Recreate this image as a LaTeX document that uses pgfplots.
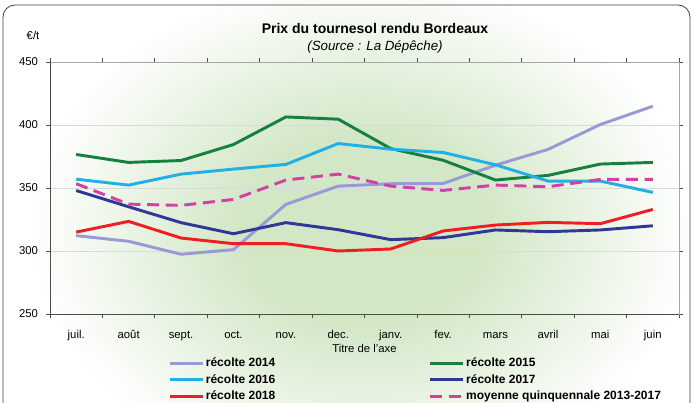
\documentclass[border=0pt]{standalone}
\usepackage{fontspec}
\setmainfont{Liberation Sans}
\usepackage{pgfplots}
\pgfplotsset{compat=1.18}
\definecolor{c14}{RGB}{153,153,214}
\definecolor{c15}{RGB}{22,128,62}
\definecolor{c16}{RGB}{32,176,230}
\definecolor{c17}{RGB}{46,56,150}
\definecolor{c18}{RGB}{238,30,36}
\definecolor{cmoy}{RGB}{210,64,160}
\definecolor{bgc}{RGB}{210,231,198}
\pgfdeclareradialshading{bgshade}{\pgfpoint{0bp}{0bp}}{color(0bp)=(bgc); color(9bp)=(bgc); color(25bp)=(white); color(50bp)=(white)}
\begin{document}
\begin{tikzpicture}
\useasboundingbox (0,0) rectangle (519.75pt,-302.25pt);
\shade[shading=bgshade] (272pt,-172pt) ellipse (250pt and 190pt);
\draw[black!75, line width=0.6pt, rounded corners=9pt] (2.25pt,-3.75pt) rectangle (517.5pt,-320pt);
\node[font=\bfseries\fontsize{10.5}{12}\selectfont, anchor=base] at (281.25pt,-25pt) {Prix du tournesol rendu Bordeaux};
\node[font=\itshape\fontsize{10}{12}\selectfont, anchor=base] at (281.25pt,-38pt) {(Source : La Dépêche)};
\node[font=\fontsize{8.5}{10}\selectfont] at (24.75pt,-26.25pt) {€/t};
\begin{axis}[
 scale only axis, width=471.75pt, height=189pt,
 anchor=north west, at={(37.5pt,-46.5pt)},
 xmin=-0.5, xmax=11.5, ymin=250, ymax=450,
 /pgf/number format/assume math mode=true,
 xtick={0,...,11},
 xticklabels={juil., août, sept., oct., nov., dec., janv., fev., mars, avril, mai, juin},
 xtick style={/pgfplots/major tick length=0pt},
 minor xtick={-0.5,0.5,...,11.5},
 minor tick length=3pt,
 ytick={250,300,...,450},
 major tick length=3pt,
 tick align=outside,
 tick style={black!70, line width=0.6pt},
 ymajorgrids, grid style={gray!30, line width=0.6pt},
 axis line style={gray!70, line width=0.6pt},
 ticklabel style={font=\fontsize{8.5}{10}\selectfont},
 xticklabel style={yshift=-5pt, text height=6.5pt, text depth=2pt},
 yticklabel style={xshift=-2.5pt},
 xlabel={Titre de l'axe},
 xlabel style={font=\fontsize{8.5}{10}\selectfont, at={(axis description cs:0.5,-0.135)}, anchor=center},
 legend columns=2,
 legend style={draw=none, fill=none, at={(0.1813,-0.1548)}, anchor=north west,
   font=\bfseries\fontsize{9}{10}\selectfont,
   nodes={inner sep=1pt, text height=7pt, text depth=2pt},
   row sep=1.5pt,
   /tikz/every even column/.append style={column sep=114pt}},
 legend cell align=left,
 legend image code/.code={\draw[#1] (0pt,0pt) -- (25pt,0pt);},
 every axis plot/.append style={line width=2.2pt, line join=round},
]
\addplot[c14] coordinates {(0,312.2) (1,307.7) (2,297.4) (3,301.1) (4,337) (5,351.5) (6,353.4) (7,353.6) (8,368.1) (9,380.6) (10,400.4) (11,414.9)};
\addlegendentry{récolte 2014}
\addplot[c15] coordinates {(0,376.6) (1,370.3) (2,371.8) (3,384.5) (4,406.4) (5,404.6) (6,381.3) (7,372) (8,356.3) (9,360) (10,369) (11,370.3)};
\addlegendentry{récolte 2015}
\addplot[c16] coordinates {(0,357) (1,352.3) (2,361) (3,365) (4,368.7) (5,385.3) (6,380.8) (7,378.2) (8,368.4) (9,355.5) (10,355.5) (11,346.5)};
\addlegendentry{récolte 2016}
\addplot[c17] coordinates {(0,348) (1,335.1) (2,322.5) (3,313.7) (4,322.5) (5,316.9) (6,309) (7,310.6) (8,316.7) (9,315.3) (10,316.7) (11,320)};
\addlegendentry{récolte 2017}
\addplot[c18] coordinates {(0,315) (1,323.5) (2,310.3) (3,305.8) (4,305.8) (5,300) (6,301.6) (7,315.9) (8,320.6) (9,322.7) (10,321.7) (11,333)};
\addlegendentry{récolte 2018}
\addplot[cmoy, dash pattern=on 9pt off 5pt] coordinates {(0,353.4) (1,337.2) (2,336.2) (3,340.9) (4,356.3) (5,361) (6,351.5) (7,348.1) (8,352.3) (9,351) (10,356.8) (11,356.8)};
\addlegendentry{moyenne quinquennale 2013-2017}
\draw[black!70, line width=0.7pt] (rel axis cs:0,1) -- (rel axis cs:0,0) -- (rel axis cs:1,0);
\end{axis}
\end{tikzpicture}
\end{document}
